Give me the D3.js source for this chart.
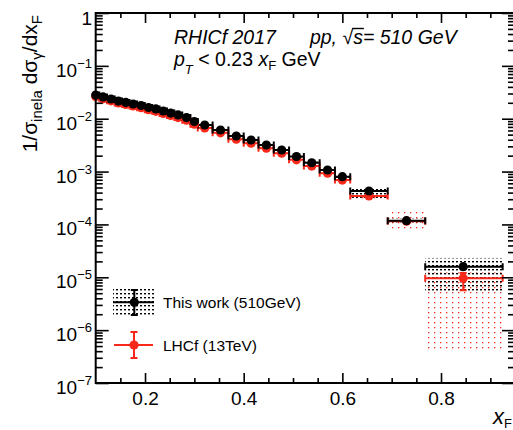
<!DOCTYPE html>
<html>
<head>
<meta charset="utf-8">
<script src="https://cdn.jsdelivr.net/npm/d3@7"></script>
<style>
  body { margin: 0; background: #fff; }
  svg { display: block; }
  text { font-family: "Liberation Sans", Arial, Helvetica, sans-serif; fill: #000; }
</style>
</head>
<body>
<div id="chart"></div>
<script>
// bin centres and edges (x_F)
const xF    = [0.100, 0.115, 0.131, 0.146, 0.161, 0.176, 0.192, 0.207, 0.222, 0.237, 0.252, 0.267, 0.284, 0.300, 0.321, 0.353, 0.385, 0.415, 0.446, 0.477, 0.507, 0.538, 0.570, 0.600, 0.654, 0.730, 0.845];
const binLo = [0.0925, 0.1075, 0.123, 0.1385, 0.1535, 0.1685, 0.184, 0.1995, 0.2145, 0.2295, 0.2445, 0.2595, 0.2755, 0.292, 0.307, 0.337, 0.369, 0.400, 0.430, 0.461, 0.492, 0.522, 0.554, 0.585, 0.616, 0.692, 0.768];
const binHi = [0.1075, 0.123, 0.1385, 0.1535, 0.1685, 0.184, 0.1995, 0.2145, 0.2295, 0.2445, 0.2595, 0.2755, 0.292, 0.307, 0.337, 0.369, 0.400, 0.430, 0.461, 0.492, 0.522, 0.554, 0.585, 0.616, 0.692, 0.768, 0.925];

// This work (510 GeV)
const thisWork       = [0.0281, 0.0258, 0.0236, 0.0216, 0.0203, 0.0190, 0.0178, 0.0163, 0.0153, 0.0140, 0.0128, 0.0118, 0.0105, 0.00886, 0.00761, 0.00612, 0.00471, 0.00396, 0.00318, 0.00256, 0.00193, 0.00147, 0.00107, 0.000800, 0.000429, 0.000118, 0.0000159];
const thisWorkStat   = [0.01, 0.01, 0.01, 0.01, 0.01, 0.01, 0.01, 0.01, 0.01, 0.01, 0.01, 0.01, 0.01, 0.01, 0.01, 0.01, 0.01, 0.01, 0.01, 0.01, 0.01, 0.01, 0.02, 0.02, 0.03, 0.04, 0.08];
const thisWorkSysUp  = [0.05, 0.05, 0.05, 0.05, 0.05, 0.05, 0.05, 0.05, 0.05, 0.05, 0.05, 0.05, 0.05, 0.05, 0.05, 0.05, 0.05, 0.05, 0.05, 0.05, 0.05, 0.05, 0.05, 0.05, 0.14, 0.11, 0.46];
const thisWorkSysDn  = [0.05, 0.05, 0.05, 0.05, 0.05, 0.05, 0.05, 0.05, 0.05, 0.05, 0.05, 0.05, 0.05, 0.05, 0.05, 0.05, 0.05, 0.05, 0.05, 0.05, 0.05, 0.05, 0.05, 0.05, 0.26, 0.11, 0.68];

// LHCf (13 TeV)
const lhcf        = [0.0262, 0.0238, 0.0218, 0.0199, 0.0186, 0.0174, 0.0162, 0.0148, 0.0138, 0.0126, 0.0115, 0.0105, 0.0094, 0.0079, 0.0067, 0.0054, 0.0041, 0.00345, 0.00276, 0.00222, 0.00167, 0.00127, 0.00093, 0.00069, 0.000345, 0.000115, 0.0000096];
const lhcfStatUp  = [0.01, 0.01, 0.01, 0.01, 0.01, 0.01, 0.01, 0.01, 0.01, 0.01, 0.01, 0.01, 0.01, 0.01, 0.01, 0.01, 0.01, 0.01, 0.01, 0.01, 0.01, 0.02, 0.02, 0.02, 0.05, 0.08, 0.25];
const lhcfStatDn  = [0.01, 0.01, 0.01, 0.01, 0.01, 0.01, 0.01, 0.01, 0.01, 0.01, 0.01, 0.01, 0.01, 0.01, 0.01, 0.01, 0.01, 0.01, 0.01, 0.01, 0.01, 0.02, 0.02, 0.02, 0.05, 0.08, 0.41];
const lhcfSysUp   = [0.05, 0.05, 0.05, 0.05, 0.05, 0.05, 0.05, 0.05, 0.05, 0.05, 0.05, 0.05, 0.05, 0.05, 0.05, 0.05, 0.05, 0.05, 0.05, 0.05, 0.05, 0.05, 0.05, 0.05, 0.05, 0.50, 0.29];
const lhcfSysDn   = [0.05, 0.05, 0.05, 0.05, 0.05, 0.05, 0.05, 0.05, 0.05, 0.05, 0.05, 0.05, 0.05, 0.05, 0.05, 0.05, 0.05, 0.05, 0.05, 0.05, 0.05, 0.05, 0.05, 0.05, 0.22, 0.32, 0.955];

// ticks
const xMajor = [0.2, 0.4, 0.6, 0.8];
const xMinor = [0.15, 0.25, 0.3, 0.35, 0.45, 0.5, 0.55, 0.65, 0.7, 0.75, 0.85, 0.9];
const yExponents = [0, -1, -2, -3, -4, -5, -6, -7];

const W = 513, H = 430;
const frameL = 95.7, frameR = 515, frameT = 13, frameB = 383;
const red = "#f8291a";

const svg = d3.select("#chart")
  .append("svg")
    .attr("width", W)
    .attr("height", H);

const defs = svg.append("defs");
defs.append("clipPath").attr("id", "plotClip")
  .append("rect")
    .attr("x", frameL).attr("y", frameT)
    .attr("width", frameR - frameL).attr("height", frameB - frameT);

// dotted fill patterns for systematic boxes
const pBlack = defs.append("pattern")
  .attr("id", "dotsBlack").attr("patternUnits", "userSpaceOnUse")
  .attr("width", 4).attr("height", 4);
pBlack.append("rect").attr("x", 0).attr("y", 1).attr("width", 2).attr("height", 1.4).attr("fill", "#000");

const pRed = defs.append("pattern")
  .attr("id", "dotsRed").attr("patternUnits", "userSpaceOnUse")
  .attr("width", 6).attr("height", 5);
pRed.append("rect").attr("x", 2).attr("y", 2).attr("width", 1.3).attr("height", 1.3).attr("fill", red);

const x = d3.scaleLinear().domain([0.1, 0.95]).range([frameL, frameR]);
const y = d3.scaleLog().domain([1e-7, 1]).range([frameB, frameT]);

const rows = xF.map((d, i) => ({
  x: d, lo: binLo[i], hi: binHi[i],
  tw: thisWork[i], twStat: thisWorkStat[i], twUp: thisWorkSysUp[i], twDn: thisWorkSysDn[i],
  lh: lhcf[i], lhStUp: lhcfStatUp[i], lhStDn: lhcfStatDn[i], lhUp: lhcfSysUp[i], lhDn: lhcfSysDn[i]
}));

const plot = svg.append("g").attr("clip-path", "url(#plotClip)");

// systematic boxes
plot.selectAll("rect.sysRed")
  .data(rows)
  .join("rect")
    .attr("class", "sysRed")
    .attr("x", d => x(d.lo))
    .attr("width", d => x(d.hi) - x(d.lo))
    .attr("y", d => y(d.lh * (1 + d.lhUp)))
    .attr("height", d => y(d.lh * (1 - d.lhDn)) - y(d.lh * (1 + d.lhUp)))
    .attr("fill", "url(#dotsRed)");

plot.selectAll("rect.sysBlack")
  .data(rows)
  .join("rect")
    .attr("class", "sysBlack")
    .attr("x", d => x(d.lo))
    .attr("width", d => x(d.hi) - x(d.lo))
    .attr("y", d => y(d.tw * (1 + d.twUp)))
    .attr("height", d => y(d.tw * (1 - d.twDn)) - y(d.tw * (1 + d.twUp)))
    .attr("fill", "url(#dotsBlack)");

// error bars: horizontal bin width with end caps, vertical stat error with caps
function drawBars(g, val, up, dn, color, cls) {
  const cap = 3.5;
  const b = g.append("g").attr("class", cls)
    .attr("stroke", color).attr("stroke-width", 2).attr("fill", "none");
  b.selectAll("path")
    .data(rows)
    .join("path")
      .attr("d", d => {
        const cy = y(val(d)), x0 = x(d.lo), x1 = x(d.hi), cx = x(d.x);
        const y0 = y(val(d) * (1 + up(d))), y1 = y(val(d) * (1 - dn(d)));
        return `M${x0},${cy}H${x1}M${x0},${cy - cap}V${cy + cap}M${x1},${cy - cap}V${cy + cap}` +
               `M${cx},${y0}V${y1}M${cx - cap},${y0}H${cx + cap}M${cx - cap},${y1}H${cx + cap}`;
      });
}

drawBars(plot, d => d.lh, d => d.lhStUp, d => d.lhStDn, red, "barsRed");

svg.selectAll("circle.lhcf")
  .data(rows)
  .join("circle")
    .attr("class", "lhcf")
    .attr("cx", d => x(d.x))
    .attr("cy", d => y(d.lh))
    .attr("r", 4.6)
    .attr("fill", red);

drawBars(plot, d => d.tw, d => d.twStat, d => d.twStat, "#000", "barsBlack");

svg.selectAll("circle.thisWork")
  .data(rows)
  .join("circle")
    .attr("class", "thisWork")
    .attr("cx", d => x(d.x))
    .attr("cy", d => y(d.tw))
    .attr("r", 4.6)
    .attr("fill", "#000");

// frame and axes
svg.append("rect")
  .attr("x", frameL).attr("y", frameT)
  .attr("width", frameR - frameL).attr("height", frameB - frameT)
  .attr("fill", "none").attr("stroke", "#000").attr("stroke-width", 2);

function tidy(g) {
  g.select(".domain").remove();
  g.selectAll(".tick line").attr("stroke", "#000").attr("stroke-width", 1.6);
}

svg.append("g")
  .attr("transform", `translate(0,${frameB})`)
  .call(d3.axisBottom(x).tickValues(xMajor).tickSize(-10).tickPadding(9).tickFormat(d3.format(".1f")))
  .call(tidy)
  .call(g => g.selectAll("text").attr("font-size", 19).attr("font-family", "Liberation Sans, Arial, sans-serif").attr("dy", "0.71em"));

svg.append("g")
  .attr("transform", `translate(0,${frameB})`)
  .call(d3.axisBottom(x).tickValues(xMinor).tickSize(-5).tickFormat(""))
  .call(tidy);

svg.append("g")
  .attr("transform", `translate(0,${frameT})`)
  .call(d3.axisTop(x).tickValues(xMajor).tickSize(-10).tickFormat(""))
  .call(tidy);

svg.append("g")
  .attr("transform", `translate(0,${frameT})`)
  .call(d3.axisTop(x).tickValues(xMinor).tickSize(-5).tickFormat(""))
  .call(tidy);

const yMajor = yExponents.map(e => Math.pow(10, e));
const yMinor = [];
yExponents.slice(1).forEach(e => {
  for (let m = 2; m <= 9; m++) yMinor.push(m * Math.pow(10, e));
});

[[d3.axisLeft, frameL], [d3.axisRight, frameR]].forEach(([axis, pos]) => {
  svg.append("g")
    .attr("transform", `translate(${pos},0)`)
    .call(axis(y).tickValues(yMajor).tickSize(-13).tickFormat(""))
    .call(tidy);
  svg.append("g")
    .attr("transform", `translate(${pos},0)`)
    .call(axis(y).tickValues(yMinor).tickSize(-7).tickFormat(""))
    .call(tidy);
});

// y tick labels, 10^n with superscripts
const yLab = svg.append("g").attr("class", "yLabels");
yExponents.forEach(e => {
  const ty = y(Math.pow(10, e));
  if (e === 0) {
    yLab.append("text")
      .attr("x", 92).attr("y", ty + 12)
      .attr("text-anchor", "end").attr("font-size", 19)
      .text("1");
  } else {
    const t = yLab.append("text")
      .attr("x", 92).attr("y", ty + 11)
      .attr("text-anchor", "end").attr("font-size", 19);
    t.append("tspan").text("10");
    t.append("tspan").attr("dy", -9).attr("font-size", 13).text("\u2212" + (-e));
  }
});

// axis titles
const yTitle = svg.append("text")
  .attr("transform", "translate(37,15) rotate(-90)")
  .attr("text-anchor", "end")
  .attr("font-size", 21);
yTitle.append("tspan").text("1/\u03c3");
yTitle.append("tspan").attr("font-size", 15).attr("dy", 5).text("inela");
yTitle.append("tspan").attr("dy", -5).text(" d\u03c3");
yTitle.append("tspan").attr("font-size", 15).attr("dy", 5).text("\u03b3");
yTitle.append("tspan").attr("dy", -5).text("/dx");
yTitle.append("tspan").attr("font-size", 15).attr("dy", 5).text("F");

const xTitle = svg.append("text")
  .attr("x", 493).attr("y", 424)
  .attr("font-size", 22);
xTitle.append("tspan").attr("font-style", "italic").text("x");
xTitle.append("tspan").attr("font-size", 13).attr("dy", 4).text("F");

// header text
const h1 = svg.append("text")
  .attr("x", 174).attr("y", 44)
  .attr("font-size", 19.5).attr("font-style", "italic");
h1.append("tspan").text("RHICf 2017");
h1.append("tspan").attr("dx", 34).text("pp, ");
h1.append("tspan").attr("font-style", "normal").text("\u221a");
h1.append("tspan").text("s= 510 GeV");

// overline of the square root, measured from the glyph positions
const h1Node = h1.node();
const full = h1Node.textContent;
const sIdx = full.indexOf("\u221a") + 1;
const s0 = h1Node.getStartPositionOfChar(sIdx).x;
const s1 = h1Node.getEndPositionOfChar(sIdx).x;
svg.append("line")
  .attr("x1", s0 - 1).attr("x2", s1 + 1)
  .attr("y1", 44 - 15.5).attr("y2", 44 - 15.5)
  .attr("stroke", "#000").attr("stroke-width", 1.4);

const h2 = svg.append("text")
  .attr("x", 174).attr("y", 66)
  .attr("font-size", 19.5);
h2.append("tspan").attr("font-style", "italic").text("p");
h2.append("tspan").attr("font-style", "italic").attr("font-size", 13).attr("dy", 8).text("T");
h2.append("tspan").attr("dy", -8).text(" < 0.23 ");
h2.append("tspan").attr("font-style", "italic").text("x");
h2.append("tspan").attr("font-size", 13).attr("dy", 4).text("F");
h2.append("tspan").attr("dy", -4).text(" GeV");

// legend
const legend = svg.append("g").attr("class", "legend");

legend.append("rect")
  .attr("x", 113).attr("y", 288).attr("width", 41).attr("height", 29)
  .attr("fill", "url(#dotsBlack)");
legend.append("path")
  .attr("d", "M113,302.3H154M134.3,290V315M130.8,290H137.8M130.8,315H137.8")
  .attr("stroke", "#000").attr("stroke-width", 2).attr("fill", "none");
legend.append("circle").attr("cx", 134.3).attr("cy", 302.3).attr("r", 4.6).attr("fill", "#000");
legend.append("text").attr("x", 163).attr("y", 308).attr("font-size", 15.5).text("This work (510GeV)");

legend.append("path")
  .attr("d", "M114,345H153M134,332V358M130.5,332H137.5M130.5,358H137.5")
  .attr("stroke", red).attr("stroke-width", 2).attr("fill", "none");
legend.append("circle").attr("cx", 134).attr("cy", 345).attr("r", 4.6).attr("fill", red);
legend.append("text").attr("x", 163).attr("y", 351).attr("font-size", 15.5).text("LHCf (13TeV)");
</script>
</body>
</html>
